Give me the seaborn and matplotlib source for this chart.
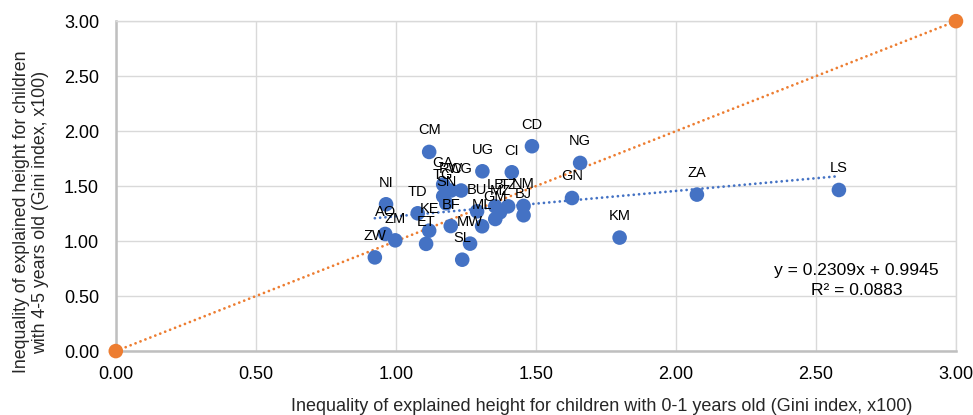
import matplotlib
matplotlib.use("Agg")
import matplotlib.pyplot as plt
import seaborn as sns
import numpy as np
import pandas as pd

# Gini index (x100) of explained height, by country
countries = ["CM", "CD", "UG", "CI", "NG", "GN", "ZA", "LS", "KM", "NI",
             "AO", "ZM", "ZW", "TD", "KE", "ET", "BF", "MW", "SL", "ML",
             "GA", "RW", "CG", "TG", "SN", "BU", "LB", "TZ", "NM", "MZ",
             "GM", "BJ"]
age_0_1 = [1.119, 1.486, 1.309, 1.414, 1.658, 1.629, 2.075, 2.582, 1.799, 0.965,
           0.962, 0.998, 0.925, 1.078, 1.119, 1.108, 1.196, 1.265, 1.237, 1.308,
           1.169, 1.197, 1.233, 1.169, 1.180, 1.290, 1.355, 1.401, 1.456, 1.372,
           1.355, 1.456]
age_4_5 = [1.811, 1.863, 1.635, 1.626, 1.711, 1.392, 1.423, 1.465, 1.032, 1.335,
           1.065, 1.007, 0.852, 1.253, 1.095, 0.975, 1.137, 0.977, 0.831, 1.135,
           1.515, 1.460, 1.460, 1.408, 1.344, 1.271, 1.316, 1.316, 1.320, 1.262,
           1.201, 1.235]

# Linear trend reported for the scatter
trend_slope = 0.2309
trend_intercept = 0.9945
trend_r2 = 0.0883

# Equality reference line endpoints
ref_x = [0.0, 3.0]
ref_y = [0.0, 3.0]

ticks = [0.0, 0.5, 1.0, 1.5, 2.0, 2.5, 3.0]

BLUE = "#4472C4"
ORANGE = "#ED7D31"
GRID = "#D9D9D9"

sns.set_theme(style="white")
plt.rcParams["font.family"] = ["Liberation Sans", "DejaVu Sans"]

df = pd.DataFrame({"country": countries, "x": age_0_1, "y": age_4_5})
ref = pd.DataFrame({"x": ref_x, "y": ref_y})

fig = plt.figure(figsize=(9.73, 4.15), dpi=100)
ax = fig.add_axes([0.119, 0.154, 0.9825 - 0.119, 0.949 - 0.154])

dot = (0, (0.01, 1.9))

# 45-degree reference line with end markers
sns.lineplot(data=ref, x="x", y="y", ax=ax, color=ORANGE, linewidth=2.0,
             linestyle="-", zorder=2, legend=False)
ax.lines[-1].set_linestyle(dot)
ax.lines[-1].set_dash_capstyle("round")
sns.scatterplot(data=ref, x="x", y="y", ax=ax, color=ORANGE, s=110,
                edgecolor="none", zorder=4, clip_on=False, legend=False)

# Linear trend across the range of the data
tx = np.array([min(age_0_1), max(age_0_1)])
ty = trend_slope * tx + trend_intercept
ax.plot(tx, ty, color=BLUE, linewidth=2.0, linestyle=dot,
        dash_capstyle="round", zorder=3)

# Country points
sns.scatterplot(data=df, x="x", y="y", ax=ax, color=BLUE, s=110,
                edgecolor="none", zorder=4, legend=False)

for c, xv, yv in zip(countries, age_0_1, age_4_5):
    ax.annotate(c, (xv, yv), xytext=(0, 15.5), textcoords="offset points",
                ha="center", va="center", fontsize=10.5, color="#000000",
                zorder=5)

ax.text(2.645, 0.735, f"y = {trend_slope:.4f}x + {trend_intercept:.4f}",
        ha="center", va="center", fontsize=12.6, color="#000000")
ax.text(2.645, 0.55, f"R² = {trend_r2:.4f}",
        ha="center", va="center", fontsize=12.6, color="#000000")

ax.set_xlim(0, 3)
ax.set_ylim(0, 3)
ax.set_xticks(ticks)
ax.set_yticks(ticks)
ax.set_xticklabels([f"{t:.2f}" for t in ticks])
ax.set_yticklabels([f"{t:.2f}" for t in ticks])
ax.tick_params(axis="both", length=0, labelsize=13, colors="#000000")
ax.tick_params(axis="x", pad=11)
ax.tick_params(axis="y", pad=12)

ax.grid(True, color=GRID, linewidth=1.0, zorder=0)
ax.set_axisbelow(True)
for side in ["top", "right"]:
    ax.spines[side].set_color(GRID)
    ax.spines[side].set_linewidth(1.0)
for side in ["left", "bottom"]:
    ax.spines[side].set_color("#BFBFBF")
    ax.spines[side].set_linewidth(1.8)

ax.set_xlabel("")
ax.set_ylabel("")
fig.text(602 / 973, 1 - 406 / 415,
         "Inequality of explained height for children with 0-1 years old (Gini index, x100)",
         ha="center", va="center", fontsize=13)
fig.text(31 / 973, 1 - 212 / 415,
         "Inequality of explained height for children\nwith 4-5 years old (Gini index, x100)",
         ha="center", va="center", rotation=90, fontsize=12.8,
         multialignment="center", linespacing=1.1)

fig.savefig("out.png", dpi=100)
